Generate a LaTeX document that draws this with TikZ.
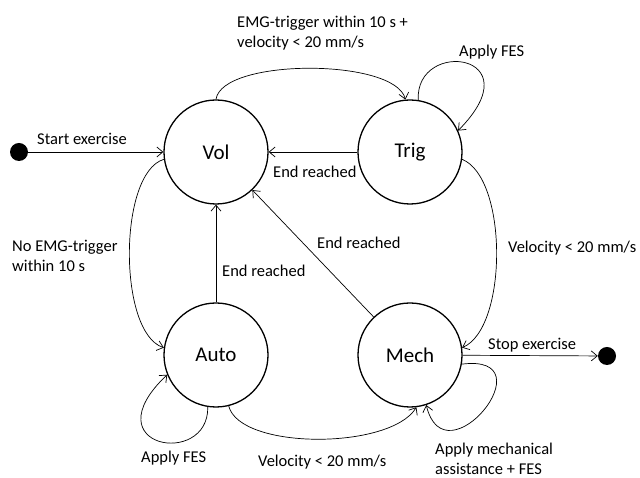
\documentclass[tikz,border=0pt]{standalone}
\usepackage{fontspec}
\setmainfont{Carlito}
\usetikzlibrary{arrows.meta}
\begin{document}
\begin{tikzpicture}[x=1pt,y=1pt,
  state/.style={circle,draw,line width=1.3pt,minimum size=104pt,inner sep=0pt,font=\fontsize{21}{24}\selectfont},
  conn/.style={line width=0.7pt,-{Straight Barb[length=6pt,width=10pt,line width=0.7pt]}},
  lbl/.style={font=\fontsize{16.5}{20}\selectfont,inner sep=0pt,anchor=west,align=left},
  dot/.style={circle,fill,minimum size=18pt,inner sep=0pt}]
\useasboundingbox (0,0) rectangle (640,478);
\node[state] (vol) at (216,326) {Vol};
\node[state] (trig) at (410,326) {Trig};
\node[state] (auto) at (216,123) {Auto};
\node[state] (mech) at (410,123) {Mech};
\node[dot] (start) at (19,326) {};
\node[dot] (stop) at (607,122) {};

\draw[conn] (start) -- (vol);
\node[lbl] (l1) at (37,339) {Start exercise};

\draw[conn] (vol.north) .. controls (222,420) and (395,420) .. (trig.95);
\node[lbl] (l2) at (237,445) {EMG-trigger within 10 s +\\velocity < 20 mm/s};

\draw[conn] (trig.81) .. controls (415,440) and (535,425) .. (trig.24);
\node[lbl] (l3) at (459,426) {Apply FES};

\draw[conn] (trig) -- (vol);
\node[lbl] (l4) at (273,306) {End reached};

\draw[conn] (vol.188) .. controls (118,305) and (118,145) .. (auto.172);
\node[lbl] (l5) at (12,222) {No EMG-trigger\\within 10 s};

\draw[conn] (auto) -- (vol);
\node[lbl] (l6) at (222,207) {End reached};

\draw[conn] (mech) -- (vol);
\node[lbl] (l7) at (317,235) {End reached};

\draw[conn] (trig.352) .. controls (508,300) and (508,150) .. (mech.8);
\node[lbl] (l8) at (508,230) {Velocity < 20 mm/s};

\draw[conn] (mech) -- (stop);
\node[lbl] (l9) at (488,133) {Stop exercise};

\draw[conn] (mech.-10) .. controls (550,125) and (445,-5) .. (mech.-72);
\node[lbl,font=\fontsize{16.5}{19.5}\selectfont] (l10) at (435,19) {Apply mechanical\\assistance + FES};

\draw[conn] (auto.-76) .. controls (240,28) and (390,28) .. (mech.-83);
\node[lbl] (l11) at (258,16) {Velocity < 20 mm/s};

\draw[conn] (auto.-99) .. controls (209,10) and (90,30) .. (auto.202);
\node[lbl] (l12) at (141,20) {Apply FES};
\end{tikzpicture}
\end{document}
